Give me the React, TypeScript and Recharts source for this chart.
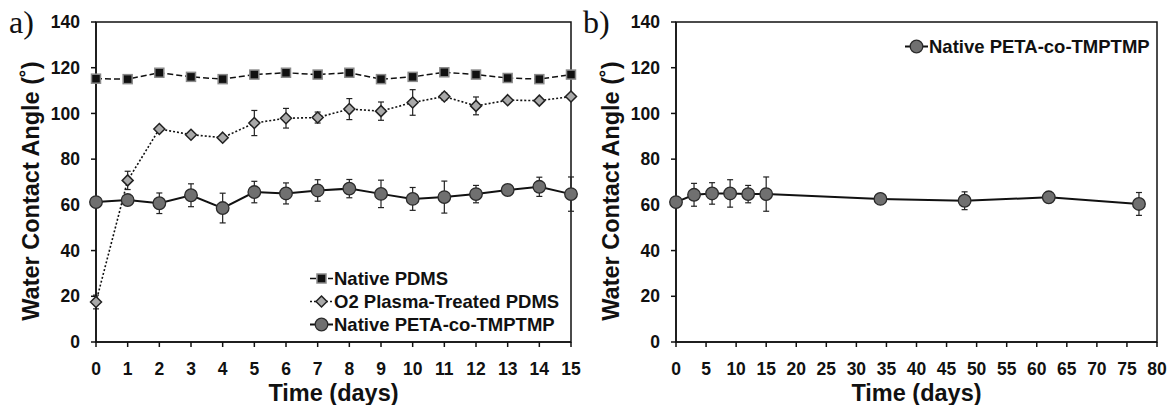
import {
  LineChart,
  Line,
  XAxis,
  YAxis,
  ErrorBar,
  Legend,
  Label,
  ReferenceArea,
} from 'recharts';

// panel a: first 15 days
const days = [0, 1, 2, 3, 4, 5, 6, 7, 8, 9, 10, 11, 12, 13, 14, 15];
const pdms = [115.2, 115, 117.8, 116, 115, 117, 117.8, 117, 117.8, 115, 116, 118, 117, 115.5, 115, 117];
const pdmsErr = [1, 1, 0.8, 1, 0.8, 1, 0.8, 0.8, 0.8, 0.8, 1, 0.8, 0.8, 0.8, 0.8, 0.8];
const o2 = [17.5, 70.7, 93.2, 90.7, 89.4, 95.8, 97.9, 98.2, 101.9, 101, 104.8, 107.4, 103.3, 105.8, 105.6, 107.4];
const o2Err = [3, 4, 1, 1, 1, 5.5, 4.3, 2.4, 4.6, 4, 5.6, 1.5, 3.9, 1, 1, 1];
const peta = [61.2, 62.1, 60.7, 64.2, 58.6, 65.6, 65, 66.3, 67.1, 64.8, 62.6, 63.4, 64.7, 66.5, 67.9, 64.7];
const petaErr = [1, 1.2, 4.5, 5, 6.5, 4.7, 4.6, 4.7, 4, 6, 5, 7, 3.8, 2.2, 4.2, 7.5];

// panel b: long term
const longDays = [0, 3, 6, 9, 12, 15, 34, 48, 62, 77];
const longPeta = [61.2, 64.4, 65, 65, 64.7, 64.7, 62.6, 61.8, 63.3, 60.4];
const longErr = [1, 5, 4.7, 6, 3.8, 7.5, 1, 3.9, 2.2, 5];

const yTicks = [0, 20, 40, 60, 80, 100, 120, 140];
const shortTicks = days;
const longTicks = [0, 5, 10, 15, 20, 25, 30, 35, 40, 45, 50, 55, 60, 65, 70, 75, 80];

const shortData = days.map((d, i) => ({
  day: d,
  pdms: pdms[i],
  pdmsErr: pdmsErr[i],
  o2: o2[i],
  o2Err: o2Err[i],
  peta: peta[i],
  petaErr: petaErr[i],
}));

const longData = longDays.map((d, i) => ({
  day: d,
  peta: longPeta[i],
  petaErr: longErr[i],
}));

const FONT = '"Liberation Sans", Arial, Helvetica, sans-serif';
const SERIF = '"Liberation Serif", "Times New Roman", serif';

const order = ['pdms', 'o2', 'peta'];
const styles: Record<string, { name: string; dash?: string; width: number; mark: string }> = {
  pdms: { name: 'Native PDMS', dash: '6 3', width: 1.5, mark: 'square' },
  o2: { name: 'O2 Plasma-Treated PDMS', dash: '2 2', width: 1.6, mark: 'diamond' },
  peta: { name: 'Native PETA-co-TMPTMP', width: 2, mark: 'circle' },
};

function Mark({ kind, cx, cy }: { kind: string; cx: number; cy: number }) {
  if (cx == null || cy == null) return null;
  if (kind === 'square') {
    return <rect x={cx - 4.5} y={cy - 4.5} width={9} height={9} fill="#111" stroke="#8a8a8a" strokeWidth={1.5} />;
  }
  if (kind === 'diamond') {
    const r = 5.5;
    return (
      <path
        d={`M${cx},${cy - r}L${cx + r},${cy}L${cx},${cy + r}L${cx - r},${cy}Z`}
        fill="#a9a9a9"
        stroke="#222"
        strokeWidth={1.5}
      />
    );
  }
  return <circle cx={cx} cy={cy} r={6.3} fill="#707070" stroke="#2a2a2a" strokeWidth={1.3} />;
}

const dotFor = (kind: string) => (p: any) => <Mark key={`${kind}-${p.index}`} kind={kind} cx={p.cx} cy={p.cy} />;

function LegendBox({ payload }: any) {
  const items = [...(payload || [])].sort(
    (a: any, b: any) => order.indexOf(a.dataKey) - order.indexOf(b.dataKey)
  );
  return (
    <div style={{ fontFamily: FONT, fontWeight: 700, fontSize: 18.5, color: '#111' }}>
      {items.map((entry: any) => {
        const s = styles[entry.dataKey];
        if (!s) return null;
        return (
          <div key={entry.dataKey} style={{ display: 'flex', alignItems: 'center', height: 23, whiteSpace: 'nowrap' }}>
            <svg width={25} height={23} style={{ display: 'block' }}>
              <line x1={1} y1={11.5} x2={24} y2={11.5} stroke="#111" strokeWidth={s.width} strokeDasharray={s.dash} />
              <Mark kind={s.mark} cx={12.5} cy={11.5} />
            </svg>
            <span>{entry.value}</span>
          </div>
        );
      })}
    </div>
  );
}

const tickStyle = { fontSize: 17.5, fontWeight: 700, fill: '#111', fontFamily: FONT };

const yTitle = (props: any) => {
  const vb = props.viewBox || { x: 0, y: 22, width: 60, height: 320 };
  const x = vb.x + 3;
  const cy = vb.y + vb.height / 2 + 9;
  return (
    <text
      x={x}
      y={cy}
      transform={`rotate(-90 ${x} ${cy})`}
      textAnchor="middle"
      fontFamily={FONT}
      fontWeight={700}
      fontSize={23.5}
      fill="#111"
    >
      Water Contact Angle (˚)
    </text>
  );
};

const xTitle = (props: any) => {
  const vb = props.viewBox || { x: 0, y: 342, width: 400, height: 63 };
  return (
    <text
      x={vb.x + vb.width / 2}
      y={vb.y + 59}
      textAnchor="middle"
      fontFamily={FONT}
      fontWeight={700}
      fontSize={23.5}
      fill="#111"
    >
      Time (days)
    </text>
  );
};

const tagStyle: React.CSSProperties = {
  position: 'absolute',
  top: 4,
  fontFamily: SERIF,
  fontSize: 32,
  lineHeight: '36px',
  color: '#111',
};

export default function App() {
  return (
    <div style={{ position: 'absolute', left: 0, top: 0, width: 1168, height: 405, background: '#fff' }}>
      <div style={{ position: 'absolute', left: 0, top: 0 }}>
        <LineChart width={586} height={405} data={shortData} margin={{ top: 22, right: 15, bottom: 0, left: 36 }}>
          <ReferenceArea x1={0} x2={15} y1={0} y2={140} fill="none" stroke="#111" strokeWidth={1.5} ifOverflow="visible" />
          <XAxis
            dataKey="day"
            type="number"
            domain={[0, 15]}
            ticks={shortTicks}
            interval={0}
            height={63}
            tickSize={5}
            tickMargin={16}
            tick={tickStyle}
            axisLine={{ stroke: '#111', strokeWidth: 1.5 }}
            tickLine={{ stroke: '#111', strokeWidth: 1.5 }}
          >
            <Label content={xTitle} />
          </XAxis>
          <YAxis
            type="number"
            domain={[0, 140]}
            ticks={yTicks}
            interval={0}
            width={60}
            tickSize={5}
            tickMargin={11}
            tick={tickStyle}
            axisLine={{ stroke: '#111', strokeWidth: 1.5 }}
            tickLine={{ stroke: '#111', strokeWidth: 1.5 }}
          >
            <Label content={yTitle} />
          </YAxis>
          <Legend
            layout="vertical"
            align="center"
            verticalAlign="middle"
            content={<LegendBox />}
            wrapperStyle={{ left: 309, top: 267, width: 'auto' }}
          />
          <Line
            dataKey="pdms"
            name={styles.pdms.name}
            type="linear"
            stroke="#111"
            strokeWidth={styles.pdms.width}
            strokeDasharray={styles.pdms.dash}
            dot={dotFor('square')}
            activeDot={false}
            isAnimationActive={false}
          >
            <ErrorBar dataKey="pdmsErr" width={3} stroke="#222" strokeWidth={1.2} direction="y" />
          </Line>
          <Line
            dataKey="o2"
            name={styles.o2.name}
            type="linear"
            stroke="#111"
            strokeWidth={styles.o2.width}
            strokeDasharray={styles.o2.dash}
            dot={dotFor('diamond')}
            activeDot={false}
            isAnimationActive={false}
          >
            <ErrorBar dataKey="o2Err" width={3} stroke="#222" strokeWidth={1.2} direction="y" />
          </Line>
          <Line
            dataKey="peta"
            name={styles.peta.name}
            type="linear"
            stroke="#111"
            strokeWidth={styles.peta.width}
            dot={dotFor('circle')}
            activeDot={false}
            isAnimationActive={false}
          >
            <ErrorBar dataKey="petaErr" width={3} stroke="#222" strokeWidth={1.2} direction="y" />
          </Line>
        </LineChart>
      </div>
      <div style={{ position: 'absolute', left: 586, top: 0 }}>
        <LineChart width={582} height={405} data={longData} margin={{ top: 22, right: 11, bottom: 0, left: 30 }}>
          <ReferenceArea x1={0} x2={80} y1={0} y2={140} fill="none" stroke="#111" strokeWidth={1.5} ifOverflow="visible" />
          <XAxis
            dataKey="day"
            type="number"
            domain={[0, 80]}
            ticks={longTicks}
            interval={0}
            height={63}
            tickSize={5}
            tickMargin={16}
            tick={tickStyle}
            axisLine={{ stroke: '#111', strokeWidth: 1.5 }}
            tickLine={{ stroke: '#111', strokeWidth: 1.5 }}
          >
            <Label content={xTitle} />
          </XAxis>
          <YAxis
            type="number"
            domain={[0, 140]}
            ticks={yTicks}
            interval={0}
            width={60}
            tickSize={5}
            tickMargin={11}
            tick={tickStyle}
            axisLine={{ stroke: '#111', strokeWidth: 1.5 }}
            tickLine={{ stroke: '#111', strokeWidth: 1.5 }}
          >
            <Label content={yTitle} />
          </YAxis>
          <Legend
            layout="vertical"
            align="center"
            verticalAlign="middle"
            content={<LegendBox />}
            wrapperStyle={{ left: 318, top: 35, width: 'auto' }}
          />
          <Line
            dataKey="peta"
            name={styles.peta.name}
            type="linear"
            stroke="#111"
            strokeWidth={styles.peta.width}
            dot={dotFor('circle')}
            activeDot={false}
            isAnimationActive={false}
          >
            <ErrorBar dataKey="petaErr" width={3} stroke="#222" strokeWidth={1.2} direction="y" />
          </Line>
        </LineChart>
      </div>
      <span style={{ ...tagStyle, left: 9 }}>a)</span>
      <span style={{ ...tagStyle, left: 583 }}>b)</span>
    </div>
  );
}
